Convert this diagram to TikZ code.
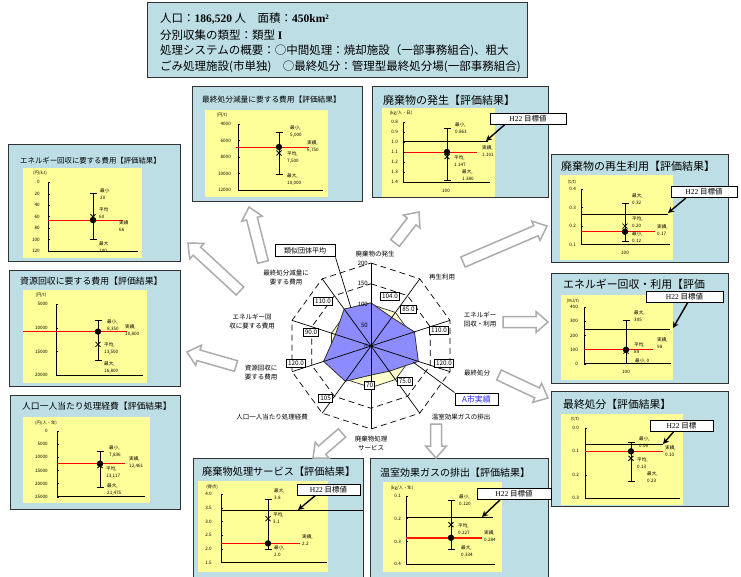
\documentclass[tikz,border=0pt]{standalone}
\usepackage{fontspec}
\setmainfont{Noto Sans CJK JP}
\newfontfamily\serf{Liberation Serif}
\usetikzlibrary{calc,arrows.meta}
\definecolor{pblue}{RGB}{189,222,229}
\definecolor{pyel}{RGB}{255,255,153}
\definecolor{rblue}{RGB}{140,140,255}
\definecolor{ryel}{RGB}{255,255,204}
\definecolor{pred}{RGB}{255,0,0}
\definecolor{bord}{RGB}{50,50,50}
\definecolor{ablue}{RGB}{40,40,255}
\tikzset{
 panel/.style={fill=pblue, draw=bord, line width=1pt},
 ttl/.style={anchor=west, inner sep=0},
 ulab/.style={font=\fontsize{4.3}{5}\selectfont, inner sep=0},
 tlab/.style={font=\fontsize{4.6}{5}\selectfont, anchor=east, inner sep=0},
 vlab/.style={font=\fontsize{4.6}{7}\selectfont, anchor=west, align=left, inner sep=0},
 axisl/.style={line width=0.8pt},
 redl/.style={draw=pred, line width=0.9pt},
 h22line/.style={line width=0.8pt},
 h22box/.style={draw, fill=white, line width=0.8pt, font=\fontsize{7.5}{8}\selectfont, inner sep=0, minimum height=11pt},
 h22arr/.style={-{Stealth[length=6pt,width=6pt]}, line width=1.4pt},
 bigarr/.style={draw=gray!65, line width=1.5pt, fill=white, line join=miter},
 valbox/.style={draw, fill=white, line width=0.7pt, font=\fontsize{6.3}{7}\selectfont, inner sep=1.6pt},
 catlab/.style={font=\fontsize{6.5}{9}\selectfont, align=center, inner sep=0},
}
\newcommand\ebar[3]{\draw[line width=0.8pt] ({#1-3.5},#2) -- ({#1+3.5},#2) (#1,#2) -- (#1,#3) ({#1-3.5},#3) -- ({#1+3.5},#3);}
\newcommand\pxmark[2]{\draw[line width=0.8pt] ({#1-2.5},{#2-2.5}) -- ({#1+2.5},{#2+2.5}) ({#1-2.5},{#2+2.5}) -- ({#1+2.5},{#2-2.5});}
\newcommand\dotm[2]{\fill (#1,#2) circle (3.2);}
\newcommand\barrow[4]{%
 \pgfmathsetmacro\baang{atan2(-(#4-#2),#3-#1)}%
 \pgfmathsetmacro\balen{veclen(#3-#1,#4-#2)}%
 \begin{scope}[shift={(#1,#2)}, rotate=\baang, y=1pt]
  \draw[bigarr] (0,-5.5) -- ({\balen-12},-5.5) -- ({\balen-12},-10.5) -- (\balen,0) -- ({\balen-12},10.5) -- ({\balen-12},5.5) -- (0,5.5) -- cycle;
 \end{scope}}
\begin{document}
\begin{tikzpicture}[x=1pt,y=-1pt]
\useasboundingbox (0,0) rectangle (741,577);
\fill[white] (0,0) rectangle (741,577);

% ---------- header ----------
\draw[panel] (147,3) rectangle (527,78);
\node[ttl, font=\fontsize{11.5}{12}\selectfont] (h1) at (160,19) {人口：{\serf\bfseries 186,520} 人　面積：{\serf\bfseries 450km²}};
\node[ttl, font=\fontsize{11.5}{12}\selectfont] (h2) at (160,35) {分別収集の類型：類型 {\serf\bfseries I}};
\node[ttl, font=\fontsize{11.5}{12}\selectfont] (h3) at (160,51) {処理システムの概要：○中間処理：焼却施設（一部事務組合)、粗大};
\node[ttl, font=\fontsize{11.5}{12}\selectfont] (h4) at (160,67) {ごみ処理施設(市単独)　○最終処分：管理型最終処分場(一部事務組合)};

% ---------- panel 1 ----------
\draw[panel] (192,87) rectangle (362,202);
\node[ttl, font=\fontsize{7.7}{8}\selectfont] (p1t) at (202,100) {最終処分減量に要する費用【評価結果】};
\fill[pyel] (205,110) rectangle (328,197);
\node[ulab] (p1u) at (222,115) {(円/t)};
\foreach \v/\y [count=\i] in {4000/124.3,6000/140.7,8000/157,10000/173.7,12000/190} {\node[tlab] (p1y\i) at (231,\y) {\v}; \draw (238,\y) -- (240,\y);}
\draw[axisl] (238,124.3) -- (238,190) -- (323,190);
\ebar{279}{132}{174}
\draw[redl] (236,147) -- (309,147);
\dotm{279}{147}
\pxmark{279}{153}
\node[vlab] (p1a) at (290,131.5) {最小,\\5,000};
\node[vlab] (p1b) at (307,146.5) {実績,\\6,750};
\node[vlab] (p1c) at (287,158) {平均,\\7,500};
\node[vlab] (p1d) at (287,180) {最大,\\10,000};

% ---------- panel 2 ----------
\draw[panel] (372,87) rectangle (548,198);
\node[ttl, font=\fontsize{11}{12}\selectfont] (p2t) at (383,100) {廃棄物の発生【評価結果】};
\fill[pyel] (382,108) rectangle (495,197);
\node[ulab] (p2u) at (401,113) {(kg/人・日)};
\foreach \v/\y [count=\i] in {0.8/122,0.9/132,1.0/142,1.1/152,1.2/162,1.3/172,1.4/182} {\node[tlab] (p2y\i) at (398,\y) {\v}; \draw (403,\y) -- (405,\y);}
\draw[axisl] (403,122) -- (403,182) -- (490,182);
\node[tlab, anchor=center] (p2x) at (446,191) {100};
\draw[h22line] (403,141) -- (488,141);
\ebar{447}{128.3}{180}
\draw[redl] (405,152) -- (477,152);
\dotm{447}{152}
\pxmark{447}{156.7}
\node[vlab] (p2a) at (455,128.5) {最小,\\0.863};
\node[vlab] (p2b) at (482,151.5) {実績,\\1.101};
\node[vlab] (p2c) at (454,161) {平均,\\1.147};
\node[vlab] (p2d) at (462,175.5) {最大,\\1.380};

% ---------- panel 3 ----------
\draw[panel] (8,145) rectangle (180,262);
\node[ttl, font=\fontsize{7.4}{8}\selectfont] (p3t) at (20,161) {エネルギー回収に要する費用【評価結果】};
\fill[pyel] (23,168) rectangle (142,258);
\node[ulab] (p3u) at (40,173) {(円/kJ)};
\foreach \v/\y [count=\i] in {0/182.3,20/193.8,40/205.3,60/216.7,80/228.1,100/239.6,120/251} {\node[tlab] (p3y\i) at (40,\y) {\v}; \draw (48,\y) -- (50,\y);}
\draw[axisl] (48,182.3) -- (48,251) -- (138,251);
\ebar{93}{193.8}{239.6}
\draw[redl] (48,220.1) -- (123,220.1);
\dotm{93}{220.1}
\pxmark{93}{216.7}
\node[vlab] (p3a) at (100,194.5) {最小\\20};
\node[vlab] (p3b) at (99,213.5) {平均\\60};
\node[vlab] (p3c) at (119,226.5) {実績\\66};
\node[vlab] (p3d) at (99,247) {最大\\100};

% ---------- panel 4 ----------
\draw[panel] (551,155) rectangle (728,263);
\node[ttl, font=\fontsize{11}{12}\selectfont] (p4t) at (561,166) {廃棄物の再生利用【評価結果】};
\fill[pyel] (560,175) rectangle (673,260);
\node[ulab] (p4u) at (572,182) {(t/t)};
\foreach \v/\y [count=\i] in {0.4/189,0.3/207.6,0.2/226.1,0.1/244.7} {\node[tlab] (p4y\i) at (576,\y) {\v}; \draw (581,\y) -- (583,\y);}
\draw[axisl] (581,189) -- (581,244.7) -- (670,244.7);
\node[tlab, anchor=center] (p4x) at (625,253) {100};
\draw[h22line] (581,214) -- (668,214);
\ebar{625}{241}{203.9}
\draw[redl] (581,231.7) -- (655,231.7);
\dotm{625}{231.7}
\pxmark{625}{226.1}
\node[vlab] (p4a) at (632,199) {最大,\\0.32};
\node[vlab] (p4b) at (632,222) {平均,\\0.20};
\node[vlab] (p4c) at (632,237.5) {最小,\\0.12};
\node[vlab] (p4d) at (657,230.5) {実績,\\0.17};

% ---------- panel 5 ----------
\draw[panel] (9,270) rectangle (180,386);
\node[ttl, font=\fontsize{8.9}{9}\selectfont] (p5t) at (20,281) {資源回収に要する費用【評価結果】};
\fill[pyel] (23,290) rectangle (147,383);
\node[ulab] (p5u) at (41,295) {(円/t)};
\foreach \v/\y [count=\i] in {5000/304.3,10000/327.9,15000/351.4,20000/375} {\node[tlab] (p5y\i) at (48,\y) {\v}; \draw (56,\y) -- (58,\y);}
\draw[axisl] (56,304.3) -- (56,375) -- (143,375);
\ebar{98}{320.1}{359.9}
\draw[redl] (23,331.6) -- (127,331.6);
\dotm{98}{331.6}
\pxmark{98}{344.4}
\node[vlab] (p5a) at (107,325.5) {最小,\\8,350};
\node[vlab] (p5b) at (125,331) {実績,\\10,800};
\node[vlab] (p5c) at (104,349) {平均,\\13,500};
\node[vlab] (p5d) at (104,368) {最大,\\16,800};

% ---------- panel 6 ----------
\draw[panel] (551,273) rectangle (728,383);
\begin{scope}
\clip (551,273) rectangle (726,383);
\node[ttl, font=\fontsize{10.9}{12}\selectfont] (p6t) at (563,284) {エネルギー回収・利用【評価};
\end{scope}
\fill[pyel] (561,295) rectangle (673,380);
\node[ulab] (p6u) at (573,301) {(MJ/t)};
\foreach \v/\y [count=\i] in {400/307,300/321.2,200/335.4,100/349.5,0/363.7} {\node[tlab] (p6y\i) at (578,\y) {\v}; \draw (584,\y) -- (586,\y);}
\draw[axisl] (584,307) -- (584,363.7) -- (671,363.7);
\node[tlab, anchor=center] (p6x) at (626,372) {100};
\draw[h22line] (584,329) -- (670,329);
\ebar{626}{363.7}{320.5}
\draw[redl] (584,349.8) -- (653,349.8);
\dotm{626}{349.8}
\pxmark{626}{351.1}
\node[vlab] (p6a) at (634,316.5) {最大,\\305};
\node[vlab] (p6b) at (634,348.5) {平均,\\89};
\node[vlab] (p6c) at (635,361) {最小, 0};
\node[vlab] (p6d) at (657,343.5) {実績,\\98};

% ---------- panel 7 ----------
\draw[panel] (10,395) rectangle (180,509);
\node[ttl, font=\fontsize{8.8}{9}\selectfont] (p7t) at (22,406) {人口一人当たり処理経費【評価結果】};
\fill[pyel] (23,417) rectangle (150,503);
\node[ulab] (p7u) at (46,423) {(円/人・年)};
\foreach \v/\y [count=\i] in {0/431,5000/444.1,10000/457.3,15000/470.4,20000/483.6,25000/496.7} {\node[tlab] (p7y\i) at (48,\y) {\v}; \draw (57,\y) -- (59,\y);}
\draw[axisl] (57,431) -- (57,496.7) -- (145,496.7);
\ebar{100}{451.6}{487.4}
\draw[redl] (57,463.7) -- (125,463.7);
\dotm{100}{463.7}
\pxmark{100}{465.5}
\node[vlab] (p7a) at (109,451.5) {最小,\\7,836};
\node[vlab] (p7b) at (129,462.5) {実績,\\12,461};
\node[vlab] (p7c) at (106,473) {平均,\\13,117};
\node[vlab] (p7d) at (107,490) {最大,\\21,475};

% ---------- panel 8 ----------
\draw[panel] (551,391) rectangle (728,506);
\node[ttl, font=\fontsize{10.8}{12}\selectfont] (p8t) at (563,404) {最終処分【評価結果】};
\fill[pyel] (561,414) rectangle (683,505);
\node[ulab] (p8u) at (575,419) {(t/t)};
\foreach \v/\y [count=\i] in {0.0/428,0.1/451.3,0.2/474.7,0.3/498} {\node[tlab] (p8y\i) at (579,\y) {\v}; \draw (585,\y) -- (587,\y);}
\draw[axisl] (585,428) -- (585,498) -- (680,498);
\draw[h22line] (585,444.7) -- (663,444.7);
\ebar{631}{442}{481.7}
\draw[redl] (585,451.3) -- (663,451.3);
\dotm{631}{451.3}
\pxmark{631}{458.3}
\node[vlab] (p8a) at (639,442) {最小,\\0.06};
\node[vlab] (p8b) at (665,451.5) {実績,\\0.10};
\node[vlab] (p8c) at (637,463) {平均,\\0.13};
\node[vlab] (p8d) at (647,477) {最大,\\0.23};

% ---------- panel 9 ----------
\draw[panel] (193,458) rectangle (363,580);
\node[ttl, font=\fontsize{10.2}{11}\selectfont] (p9t) at (202,472) {廃棄物処理サービス【評価結果】};
\fill[pyel] (198,481) rectangle (328,572);
\node[ulab] (p9u) at (212,487) {(得点)};
\foreach \v/\y [count=\i] in {4.0/494,3.5/507.7,3.0/521.4,2.5/535.1,2.0/548.9,1.5/562.6} {\node[tlab] (p9y\i) at (212,\y) {\v}; \draw (221,\y) -- (223,\y);}
\draw[axisl] (221,494) -- (221,562.6) -- (327,562.6);
\draw[h22line] (221,510.7) -- (363,510.7);
\ebar{268}{548.9}{499.5}
\draw[redl] (221,543.4) -- (300,543.4);
\dotm{268}{543.4}
\pxmark{268}{518.6}
\node[vlab] (p9a) at (274,494) {最大,\\3.8};
\node[vlab] (p9b) at (273,518) {平均,\\3.1};
\node[vlab] (p9c) at (302,540) {実績,\\2.2};
\node[vlab] (p9d) at (274,551) {最小,\\2.0};

% ---------- panel 10 ----------
\draw[panel] (370,458) rectangle (548,580);
\node[ttl, font=\fontsize{10}{11}\selectfont] (p10t) at (380,473) {温室効果ガスの排出【評価結果】};
\fill[pyel] (383,482) rectangle (502,572);
\node[ulab] (p10u) at (402,488) {(kg/人・年)};
\foreach \v/\y [count=\i] in {0.1/495.7,0.2/518.5,0.3/541.4,0.4/564.3} {\node[tlab] (p10y\i) at (401,\y) {\v}; \draw (406,\y) -- (408,\y);}
\draw[axisl] (406,495.7) -- (406,564.3) -- (495,564.3);
\draw[h22line] (406,517.5) -- (493,517.5);
\ebar{451}{500.3}{549.2}
\draw[draw=red!80!orange, line width=1.4pt] (406,537.8) -- (482,537.8);
\dotm{451}{537.8}
\pxmark{451}{524.7}
\node[vlab] (p10a) at (459,500) {最小,\\0.120};
\node[vlab] (p10b) at (458,529) {平均,\\0.227};
\node[vlab] (p10c) at (484,536.5) {実績,\\0.284};
\node[vlab] (p10d) at (461,551) {最大,\\0.334};

% ---------- H22 boxes ----------
\node[h22box, minimum width=76pt] (p2h) at (528,118.5) {{\serf H22} 目標値};
\coordinate (p2e) at (486,141);
\draw[h22arr] ([xshift=-23pt]p2h.south) -- (p2e);
\node[h22box, minimum width=66pt] (p4h) at (704,192) {{\serf H22} 目標値};
\coordinate (p4e) at (668,213);
\draw[h22arr] ([xshift=-18pt]p4h.south) -- (p4e);
\node[h22box, minimum width=77pt] (p6h) at (684.5,297) {{\serf H22} 目標値};
\coordinate (p6e) at (673,328);
\draw[h22arr] ([xshift=3pt]p6h.south) -- (p6e);
\node[h22box, minimum width=63pt] (p8h) at (681.5,426) {{\serf H22} 目標};
\coordinate (p8e) at (663,444);
\draw[h22arr] ([xshift=-8pt]p8h.south) -- (p8e);
\node[h22box, minimum width=63pt] (p9h) at (328.5,489.5) {{\serf H22} 目標値};
\coordinate (p9e) at (298,510);
\draw[h22arr] ([xshift=-13pt]p9h.south) -- (p9e);
\node[h22box, minimum width=74pt] (p10h) at (514,494) {{\serf H22} 目標値};
\coordinate (p10e) at (482,517);
\draw[h22arr] ([xshift=-14pt]p10h.south) -- (p10e);

% ---------- block arrows ----------
\barrow{263}{262}{249}{207}
\barrow{395}{243}{419}{212}
\barrow{463}{262}{547}{226}
\barrow{503}{322}{548}{322}
\barrow{499}{375}{548}{398}
\barrow{436}{424}{436}{458}
\barrow{342}{433}{313}{458}
\barrow{236}{366}{187}{352}
\barrow{240}{291}{188}{243}

% ---------- radar ----------
\begin{scope}[shift={(371,346)}, y=1pt]
 \draw[dash pattern=on 6pt off 4pt, line width=0.7pt] (90:83) \foreach \k in {1,...,9} { -- (90-36*\k:83)} -- cycle;
 \draw[dash pattern=on 6pt off 4pt, line width=0.7pt] (90:62.25) \foreach \k in {1,...,9} { -- (90-36*\k:62.25)} -- cycle;
 \draw[fill=ryel, draw=bord, line width=0.7pt] (90:41.5) \foreach \k in {1,...,9} { -- (90-36*\k:41.5)} -- cycle;
 \draw[fill=rblue, draw=bord, line width=0.8pt] (90:{104*0.415}) -- (54:{85*0.415}) -- (18:{110*0.415}) -- (-18:{120*0.415}) -- (-54:{75*0.415}) -- (-90:{70*0.415}) -- (-126:{105*0.415}) -- (-162:{120*0.415}) -- (162:{90*0.415}) -- (126:{110*0.415}) -- cycle;
 \foreach \k in {0,...,9} {\draw[line width=0.7pt] (0,0) -- (90-36*\k:83);}
 \foreach \r/\t [count=\i] in {0/0,20.75/50,41.5/100,62.25/150,83/200} {\node[font=\fontsize{6}{7}\selectfont, anchor=east, inner sep=0] (rs\i) at (-3,\r) {\t};}
\end{scope}

% category labels
\node[catlab] (c0) at (375,254) {廃棄物の発生};
\node[catlab] (c1) at (442,277) {再生利用};
\node[catlab] (c2) at (480,320) {エネルギー\\回収・利用};
\node[catlab] (c3) at (477,373) {最終処分};
\node[catlab] (c4) at (461,417) {温室効果ガスの排出};
\node[catlab] (c5) at (371,443) {廃棄物処理\\サービス};
\node[catlab] (c6) at (272,417) {人口一人当たり処理経費};
\node[catlab] (c7) at (261,373) {資源回収に\\要する費用};
\node[catlab] (c8) at (252,322) {エネルギー回\\収に要する費用};
\node[catlab] (c9) at (286,278) {最終処分減量に\\要する費用};

% value boxes
\node[valbox] (v0) at (390,296) {104.0};
\node[valbox] (v1) at (408.5,309) {85.0};
\node[valbox] (v2) at (439,330) {110.0};
\node[valbox] (v3) at (444,363.5) {120.0};
\node[valbox] (v4) at (405,381.5) {75.0};
\node[valbox] (v5) at (369.5,385.5) {70};
\node[valbox] (v6) at (325.5,398) {105};
\node[valbox] (v7) at (296,363.5) {120.0};
\node[valbox] (v8) at (311,332.5) {90.0};
\node[valbox] (v9) at (323,301) {110.0};

% legends
\coordinate (yelpt) at (351,308);
\node[draw, fill=white, line width=1pt, font=\fontsize{7}{8}\selectfont, minimum width=60pt, minimum height=12pt, inner sep=0] (ruiji) at (305,251) {類似団体平均};
\draw[line width=0.7pt] (ruiji.south east) -- (yelpt);
\coordinate (bluept) at (413,362);
\node[draw, fill=white, line width=1pt, text=ablue, font=\fontsize{8}{9}\selectfont, minimum width=43pt, minimum height=12pt, inner sep=0] (aka) at (476.5,399) {A市実績};
\draw[line width=0.7pt] (aka.north west) -- (bluept);
\end{tikzpicture}
\end{document}
